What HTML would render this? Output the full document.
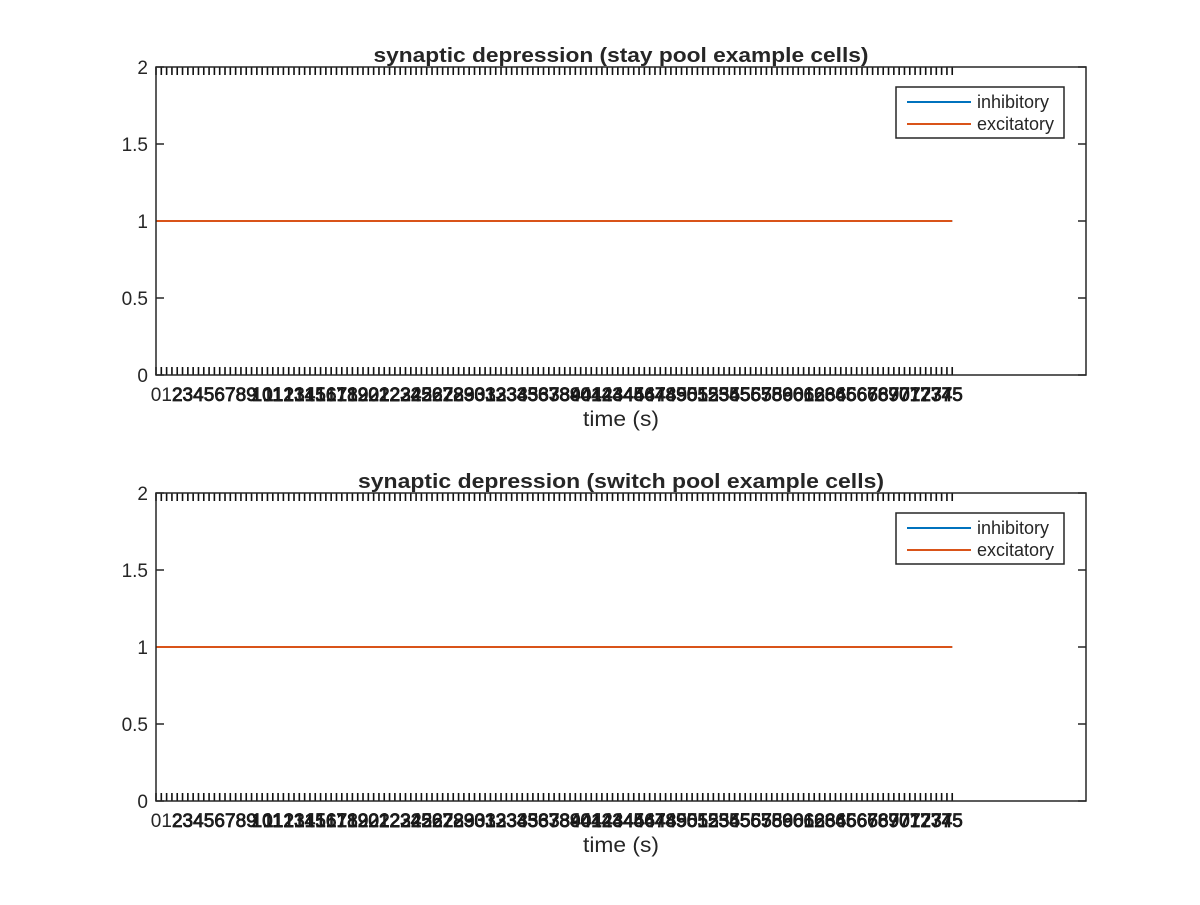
<!DOCTYPE html>
<html><head><meta charset="utf-8"><style>
body{margin:0;background:#fff}
svg text{font-family:"Liberation Sans",Helvetica,sans-serif;fill:#262626}
</style></head><body>
<svg id="fig" width="1200" height="900" viewBox="0 0 1200 900" xmlns="http://www.w3.org/2000/svg"></svg>
<script>
const xTickStep = 0.5;
const xMaxTick = 75;
const xLim = [0, 87.6];
const yTicks = [0, 0.5, 1, 1.5, 2];
const yTickLabels = ['0', '0.5', '1', '1.5', '2'];
const seriesNames = ['inhibitory', 'excitatory'];
const seriesColors = ['#0072bd', '#d95319'];
const inhibitoryTop = [[0, 1], [75, 1]];
const excitatoryTop = [[0, 1], [75, 1]];
const inhibitoryBottom = [[0, 1], [75, 1]];
const excitatoryBottom = [[0, 1], [75, 1]];
const panels = [
  {title: 'synaptic depression (stay pool example cells)', top: 67, series: [inhibitoryTop, excitatoryTop], key: 'stay', tw: 495},
  {title: 'synaptic depression (switch pool example cells)', top: 493, series: [inhibitoryBottom, excitatoryBottom], key: 'switch', tw: 526}
];
const NS = 'http://www.w3.org/2000/svg';
const svg = document.getElementById('fig');
function mk(tag, attrs, parent, txt) {
  const e = document.createElementNS(NS, tag);
  for (const k in attrs) e.setAttribute(k, attrs[k]);
  if (txt !== undefined) e.textContent = txt;
  parent.appendChild(e);
  return e;
}
const L = 156, R = 1086, H = 308;
panels.forEach(p => {
  const T = p.top, B = T + H;
  const g = mk('g', {}, svg);
  
  
  const xs = v => L + (v - xLim[0]) / (xLim[1] - xLim[0]) * (R - L);
  const ys = v => B - v / 2 * H;
  let tp = '';
  for (let i = 0; i <= xMaxTick / xTickStep; i++) {
    const x = xs(i * xTickStep);
    tp += `M${x},${B}v-8M${x},${T}v8`;
  }
  const xt = mk('path', {d: tp, stroke: '#111', 'stroke-width': 1.6, fill: 'none'}, g);
  
  
  for (let v = 0; v <= xMaxTick; v++) {
    const t = mk('text', {x: xs(v), y: B + 26, 'font-size': 19, 'text-anchor': 'middle', fill: '#111', stroke: v > 1 ? '#111' : 'none', 'stroke-width': 0.8}, g, String(v));
    
    
  }
  let yp = '';
  yTicks.forEach((v, i) => {
    const y = ys(v);
    yp += `M${L},${y}h8M${R},${y}h-8`;
    const t = mk('text', {x: L - 8, y: y + 7, 'font-size': 19, 'text-anchor': 'end'}, g, yTickLabels[i]);
    
    
  });
  mk('path', {d: yp, stroke: '#262626', 'stroke-width': 1.5, fill: 'none'}, g);
  p.series.forEach((s, i) => {
    const d = s.map((pt, j) => (j ? 'L' : 'M') + xs(pt[0]) + ',' + ys(pt[1])).join('');
    const l = mk('path', {d: d, stroke: seriesColors[i], 'stroke-width': 2, fill: 'none'}, g);
    
    
  });
  const box = mk('rect', {x: L, y: T, width: R - L, height: H, fill: 'none', stroke: '#262626', 'stroke-width': 1.5}, g);
  
  
  const ti = mk('text', {x: 621 - p.tw / 2, y: T - 5, 'font-size': 20, 'font-weight': 'bold', textLength: p.tw, lengthAdjust: 'spacingAndGlyphs', fill: '#000'}, g, p.title);
  
  
  const xl = mk('text', {x: 583, y: B + 51, 'font-size': 21, textLength: 76, lengthAdjust: 'spacingAndGlyphs'}, g, 'time (s)');
  
  
  const lg = mk('g', {}, g);
  
  
  mk('rect', {x: 896, y: T + 20, width: 168, height: 51, fill: '#fff', stroke: '#262626', 'stroke-width': 1.5}, lg);
  seriesNames.forEach((n, i) => {
    const y = T + 35 + i * 22;
    const e = mk('g', {}, lg);
    
    
    mk('line', {x1: 907, x2: 971, y1: y, y2: y, stroke: seriesColors[i], 'stroke-width': 2}, e);
    mk('text', {x: 977, y: y + 6, 'font-size': 18, fill: '#000'}, e, n);
  });
});
</script>
</body></html>
